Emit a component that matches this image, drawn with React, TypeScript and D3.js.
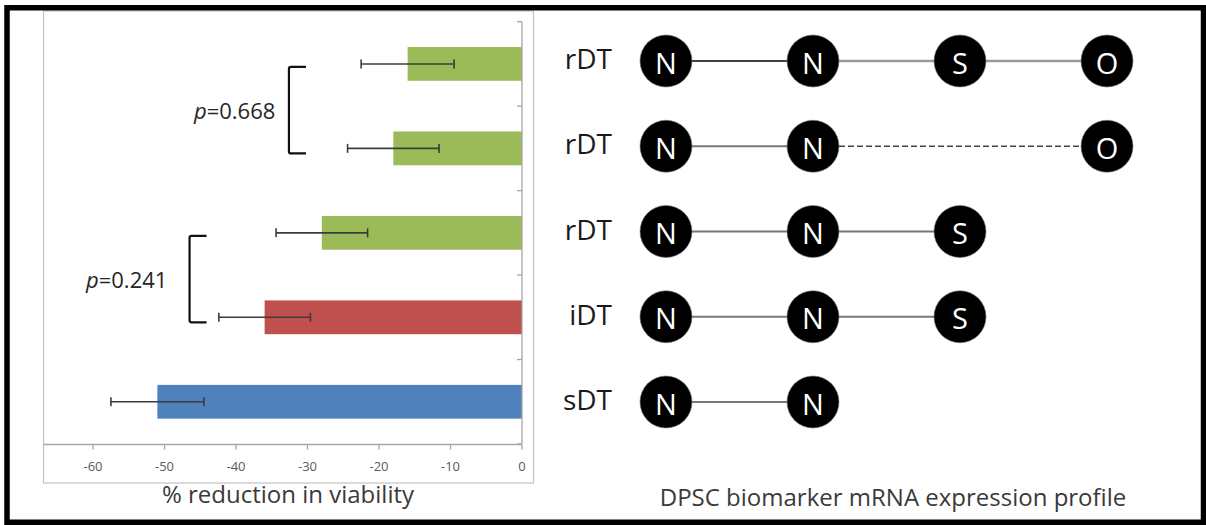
import React from "react";
import * as d3 from "d3";

// ---------- data ----------
const groups = ["rDT", "rDT", "rDT", "iDT", "sDT"]; // top to bottom
const values = [-16, -18, -28, -36, -51];
const errors = [6.5, 6.4, 6.4, 6.4, 6.5];
const xTicks = [-60, -50, -40, -30, -20, -10, 0];

const profiles = [
  ["N", "N", "S", "O"],
  ["N", "N", "", "O"],
  ["N", "N", "S", ""],
  ["N", "N", "S", ""],
  ["N", "N", "", ""],
];

const pLabels = ["0.668", "0.241"];
const pRows = [
  [0, 1],
  [2, 3],
];
const pBracketAt = [-32.6, -46.5]; // in axis units
const pTextEndAt = [-34.5, -49.6];

const xTitle = "% reduction in viability";
const rightTitle = "DPSC biomarker mRNA expression profile";

// ---------- style ----------
const groupColor: Record<string, string> = {
  rDT: "#9BBB59",
  iDT: "#C0504D",
  sDT: "#4F81BD",
};
const FONT = "'Open Sans', 'Noto Sans', sans-serif";

export default function App() {
  const W = 1206;
  const H = 525;

  const x = d3.scaleLinear().domain([-67, 0]).range([43, 522]);
  const y = d3
    .scaleBand<number>()
    .domain(d3.range(groups.length))
    .range([21.7, 444])
    .padding(0);
  const step = y.step();
  const barH = step * 0.4;
  const cy = (i: number) => (y(i) as number) + step / 2;

  const rowY = d3
    .scalePoint<number>()
    .domain(d3.range(profiles.length))
    .range([61, 402]);
  const colX = d3.scalePoint<number>().domain(d3.range(4)).range([666, 1107]);
  const R = 26;

  const axisColor = "#a6a6a6";

  return (
    <svg
      width={W}
      height={H}
      style={{ position: "absolute", left: 0, top: 0, background: "#fff" }}
      fontFamily={FONT}
    >
      {/* left chart frame */}
      <rect x={43.5} y={11} width={490} height={472} fill="none" stroke="#c4c4c4" strokeWidth={1.2} />

      {/* bars */}
      {values.map((v, i) => (
        <rect
          key={"b" + i}
          x={x(v)}
          y={cy(i) - barH / 2}
          width={x(0) - x(v)}
          height={barH}
          fill={groupColor[groups[i]]}
        />
      ))}

      {/* error bars */}
      {values.map((v, i) => {
        const x1 = x(v - errors[i]);
        const x2 = x(v + errors[i]);
        const yy = cy(i);
        return (
          <g key={"e" + i} stroke="#3c3c3c" strokeWidth={1.6}>
            <line x1={x1} x2={x2} y1={yy} y2={yy} />
            <line x1={x1} x2={x1} y1={yy - 4.5} y2={yy + 4.5} />
            <line x1={x2} x2={x2} y1={yy - 4.5} y2={yy + 4.5} />
          </g>
        );
      })}

      {/* vertical axis at 0 */}
      <line x1={x(0)} x2={x(0)} y1={21.7} y2={444} stroke={axisColor} strokeWidth={1.3} />
      {d3.range(groups.length + 1).map((k) => {
        const yy = 21.7 + k * step;
        return <line key={"yt" + k} x1={x(0) - 5} x2={x(0)} y1={yy} y2={yy} stroke={axisColor} strokeWidth={1.3} />;
      })}

      {/* horizontal axis */}
      <line x1={43.5} x2={x(0)} y1={444.5} y2={444.5} stroke={axisColor} strokeWidth={1.3} />
      {xTicks.map((t) => (
        <g key={"xt" + t}>
          <line x1={x(t)} x2={x(t)} y1={444.5} y2={449.5} stroke={axisColor} strokeWidth={1.3} />
          <text
            x={x(t)}
            y={466}
            textAnchor="middle"
            dominantBaseline="central"
            fontSize={13}
            fill="#595959"
          >
            {t}
          </text>
        </g>
      ))}

      {/* p-value brackets */}
      {pLabels.map((lab, k) => {
        const bx = x(pBracketAt[k]);
        const y1 = cy(pRows[k][0]) + 3;
        const y2 = cy(pRows[k][1]) + 5;
        const arm = 17;
        const path = `M${bx + arm},${y1} L${bx + 2},${y1} Q${bx},${y1} ${bx},${y1 + 2} L${bx},${y2 - 2} Q${bx},${y2} ${bx + 2},${y2} L${bx + arm},${y2}`;
        return (
          <g key={"p" + k}>
            <path d={path} fill="none" stroke="#111" strokeWidth={2.2} />
            <text
              x={x(pTextEndAt[k])}
              y={(y1 + y2) / 2}
              textAnchor="end"
              dominantBaseline="central"
              fontSize={22}
              fill="#262626"
            >
              <tspan fontStyle="italic">p</tspan>
              <tspan>={lab}</tspan>
            </text>
          </g>
        );
      })}

      <text x={288} y={493} textAnchor="middle" dominantBaseline="central" fontSize={24} fill="#3a3a3a">
        {xTitle}
      </text>

      {/* right panel: profiles */}
      {profiles.map((row, i) => {
        const yy = rowY(i) as number;
        const present = row.map((s, j) => (s ? j : -1)).filter((j) => j >= 0);
        const links: { a: number; b: number; dashed: boolean }[] = [];
        for (let k = 0; k < present.length - 1; k++) {
          const a = present[k];
          const b = present[k + 1];
          links.push({ a, b, dashed: b - a > 1 });
        }
        return (
          <g key={"r" + i}>
            <text
              x={612}
              y={yy - 3}
              textAnchor="end"
              dominantBaseline="central"
              fontSize={28}
              fill="#1a1a1a"
            >
              {groups[i]}
            </text>
            {links.map((l, k) => {
              const first = i === 0 && l.a === 0;
              return (
                <line
                  key={"l" + k}
                  x1={(colX(l.a) as number) + R}
                  x2={(colX(l.b) as number) - R}
                  y1={yy}
                  y2={yy}
                  stroke={first ? "#000" : l.dashed ? "#444" : i === 0 ? "#999" : "#777"}
                  strokeWidth={first ? 1.6 : l.dashed ? 1.4 : i === 0 ? 2.6 : 2}
                  strokeDasharray={l.dashed ? "6,3" : undefined}
                />
              );
            })}
            {row.map((s, j) =>
              s ? (
                <g key={"c" + j}>
                  <circle cx={colX(j)} cy={yy} r={R} fill="#000" stroke="#777" strokeWidth={0.6} />
                  <text
                    x={colX(j)}
                    y={yy + 1}
                    textAnchor="middle"
                    dominantBaseline="central"
                    fontSize={29}
                    fill="#fff"
                  >
                    {s}
                  </text>
                </g>
              ) : null
            )}
          </g>
        );
      })}

      <text x={893} y={496} textAnchor="middle" dominantBaseline="central" fontSize={24} fill="#3a3a3a">
        {rightTitle}
      </text>

      {/* outer border */}
      <rect x={7} y={7.75} width={1196.5} height={514.5} fill="none" stroke="#000" strokeWidth={5.5} />
    </svg>
  );
}
